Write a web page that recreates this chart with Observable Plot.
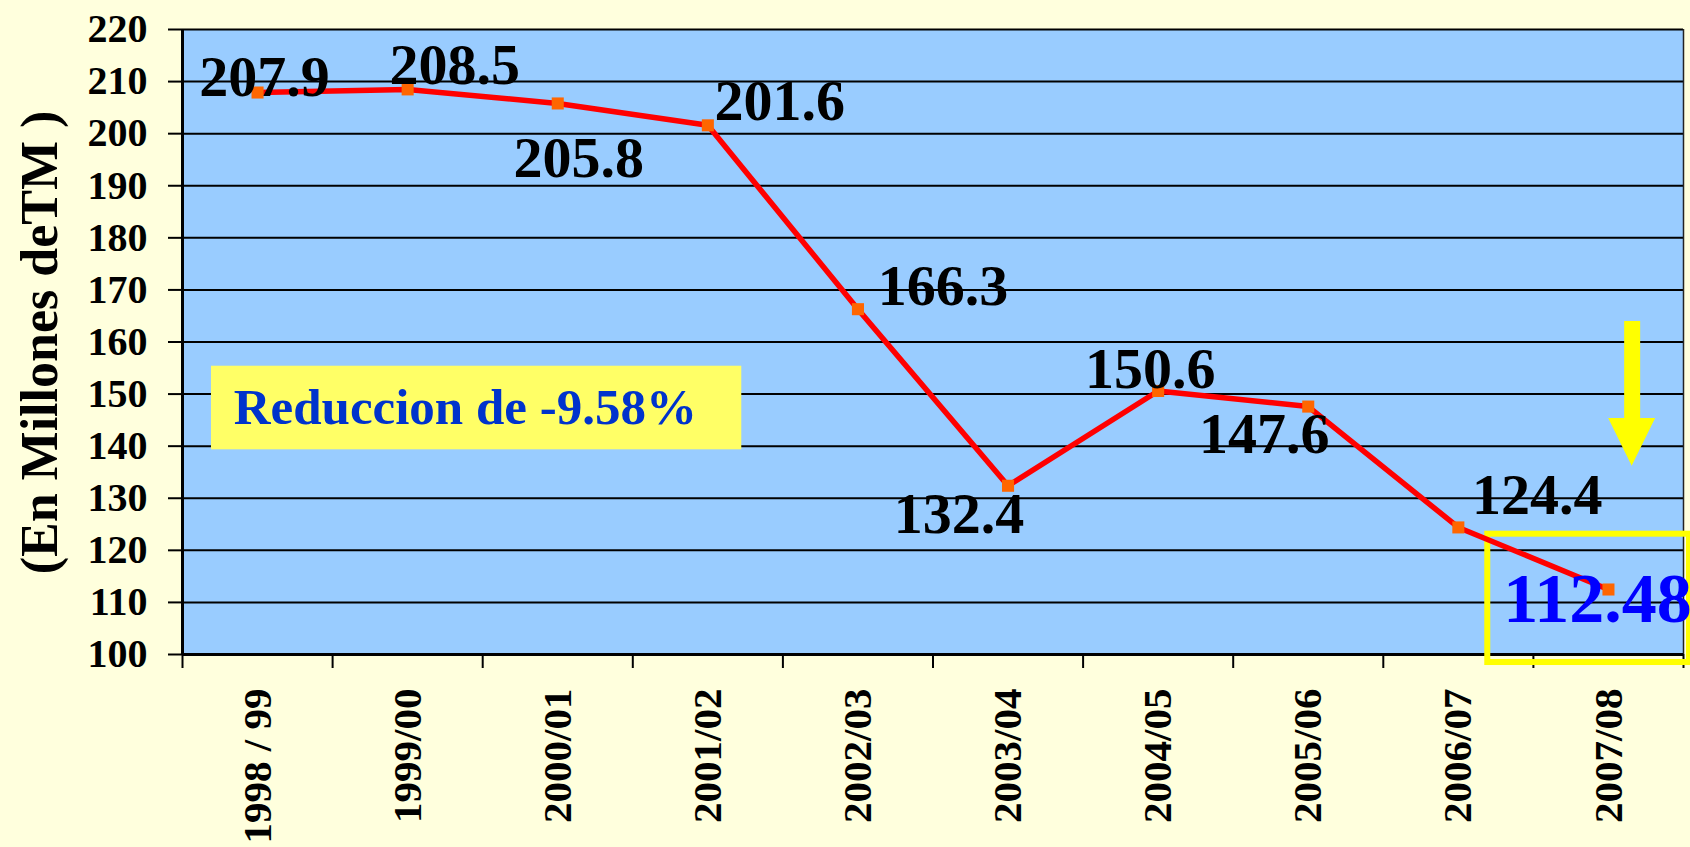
<!DOCTYPE html>
<html>
<head>
<meta charset="utf-8">
<script src="https://cdn.jsdelivr.net/npm/d3@7"></script>
<script src="https://cdn.jsdelivr.net/npm/@observablehq/plot@0.6"></script>
<style>
  html, body { margin: 0; padding: 0; background: #FFFFDD; }
  #chart { width: 1690px; height: 847px; }
</style>
</head>
<body>
<div id="chart"></div>
<script>
// ---- data ----
const categories = ["1998 / 99", "1999/00", "2000/01", "2001/02", "2002/03", "2003/04", "2004/05", "2005/06", "2006/07", "2007/08"];
const production = [207.9, 208.5, 205.8, 201.6, 166.3, 132.4, 150.6, 147.6, 124.4, 112.48];
const valueLabels = ["207.9", "208.5", "205.8", "201.6", "166.3", "132.4", "150.6", "147.6", "124.4", "112.48"];
const yTicks = [100, 110, 120, 130, 140, 150, 160, 170, 180, 190, 200, 210, 220];
const yTitle = "(En Millones deTM )";
const noteText = "Reduccion de -9.58%";

// ---- layout (label nudges in px, annotations in data units) ----
const labelNudges = [[7, -15], [47, -24], [21, 55], [72, -24], [85, -23], [-49, 29], [-8, -22], [-44, 28], [79, -32], [-11, 10]];
const noteBox = {x1: 0.193, x2: 3.726, y1: 139.3, y2: 155.35, tx: 0.341, ty: 147.4};
const highlightBox = {x1: 8.696, x2: 10.04, y1: 98.46, y2: 123.1};
const arrowShaft = {x: 9.658, y1: 163.93, y2: 145.0};
const arrowHead = [
  {x: 9.658 - 0.1565, y: 145.31, base: 145.31},
  {x: 9.658, y: 136.15, base: 145.31},
  {x: 9.658 + 0.1565, y: 145.31, base: 145.31}
];

const data = categories.map((c, i) => ({cat: c, pos: i + 0.5, value: production[i], label: valueLabels[i]}));
const boundaries = d3.range(0, categories.length + 1);

const labelMarks = data.map((d, i) => Plot.text([d], {
  x: "pos", y: "value", text: "label",
  dx: labelNudges[i][0], dy: labelNudges[i][1],
  fontSize: i === data.length - 1 ? 70 : 58,
  fill: i === data.length - 1 ? "#0000FF" : "#000000",
  textAnchor: "middle", lineAnchor: "middle"
}));

const chart = Plot.plot({
  width: 1690,
  height: 847,
  marginLeft: 182,
  marginRight: 7,
  marginTop: 29,
  marginBottom: 193,
  style: {background: "#FFFFDD", fontFamily: "Liberation Serif", fontWeight: "bold", color: "#000", overflow: "visible"},
  x: {domain: [0, categories.length]},
  y: {domain: [100, 220]},
  marks: [
    Plot.frame({fill: "#99CCFF", stroke: "none"}),
    Plot.gridY(yTicks.filter(v => v > 100), {stroke: "#000", strokeOpacity: 1, strokeWidth: 2}),
    Plot.ruleX([categories.length], {stroke: "#222", strokeWidth: 1.5}),
    Plot.ruleX([0], {stroke: "#000", strokeWidth: 3}),
    Plot.ruleY([100], {stroke: "#000", strokeWidth: 3}),
    Plot.axisY(yTicks, {tickSize: 14, tickPadding: 21, fontSize: 40, strokeWidth: 2, label: null}),
    Plot.axisX(boundaries, {tickSize: 14, tickFormat: () => "", strokeWidth: 2, label: null}),
    Plot.axisX(data.map(d => d.pos), {tickSize: 0, tickPadding: 34, tickRotate: -90, fontSize: 41,
      tickFormat: v => categories[Math.floor(v)], label: null}),
    Plot.text([yTitle], {frameAnchor: "left", dx: -142, dy: 0.5, rotate: -90, fontSize: 52,
      textAnchor: "middle", lineAnchor: "middle", text: d => d}),
    Plot.rect([noteBox], {x1: "x1", x2: "x2", y1: "y1", y2: "y2", fill: "#FFFF66"}),
    Plot.text([noteBox], {x: "tx", y: "ty", text: () => noteText, textAnchor: "start", lineAnchor: "middle", fontSize: 51, fill: "#0033CC"}),
    Plot.rect([highlightBox], {x1: "x1", x2: "x2", y1: "y1", y2: "y2", fill: "none", stroke: "#FFFF00", strokeWidth: 6}),
    Plot.line(data, {x: "pos", y: "value", stroke: "#FF0000", strokeWidth: 5.5}),
    Plot.dot(data, {x: "pos", y: "value", symbol: "square", r: 6.8, fill: "#FF6600", stroke: "none"}),
    ...labelMarks,
    Plot.ruleX([arrowShaft], {x: "x", y1: "y1", y2: "y2", stroke: "#FFFF00", strokeWidth: 16}),
    Plot.areaY(arrowHead, {x: "x", y1: "base", y2: "y", fill: "#FFFF00", curve: "linear"})
  ]
});
document.getElementById("chart").appendChild(chart);
</script>
</body>
</html>
